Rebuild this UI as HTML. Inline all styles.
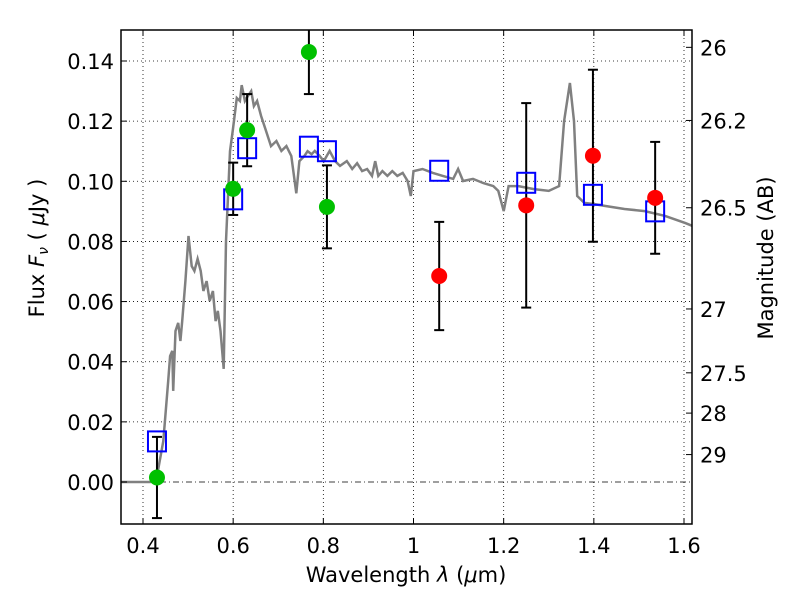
<!DOCTYPE html>
<html><head><meta charset="utf-8"><style>
body{margin:0;background:#fff;}
svg{display:block;font-family:"DejaVu Sans","Liberation Sans",sans-serif;}
</style></head><body>
<svg id="chart" width="800" height="600"></svg>
<script>
const specLambda=[0.35,0.416,0.431,0.445,0.456,0.460,0.465,0.467,0.472,0.478,0.483,0.487,0.494,0.501,0.508,0.514,0.521,0.528,0.534,0.541,0.548,0.555,0.561,0.566,0.572,0.579,0.584,0.588,0.593,0.599,0.608,0.615,0.619,0.626,0.633,0.640,0.646,0.653,0.662,0.673,0.684,0.696,0.707,0.718,0.729,0.740,0.747,0.758,0.765,0.774,0.781,0.792,0.801,0.814,0.826,0.837,0.852,0.864,0.875,0.886,0.897,0.908,0.915,0.922,0.931,0.942,0.953,0.964,0.976,0.987,0.994,1.000,1.020,1.043,1.065,1.088,1.099,1.110,1.132,1.155,1.177,1.188,1.200,1.211,1.233,1.267,1.300,1.323,1.334,1.347,1.356,1.363,1.379,1.401,1.424,1.468,1.513,1.558,1.603,1.630];
const specFlux=[0,0,0.002,0.0136,0.0336,0.0419,0.0436,0.0303,0.0502,0.0529,0.0469,0.0535,0.0668,0.0818,0.0718,0.0702,0.0742,0.0702,0.0635,0.0668,0.0602,0.0635,0.0535,0.0569,0.0502,0.0376,0.0801,0.0934,0.110,0.1167,0.1277,0.1267,0.132,0.1267,0.1284,0.130,0.125,0.1267,0.1217,0.1167,0.1117,0.1134,0.1101,0.1117,0.1084,0.096,0.1067,0.1084,0.110,0.109,0.1101,0.1084,0.1067,0.1101,0.1067,0.1051,0.1067,0.1041,0.106,0.1034,0.1041,0.1018,0.1067,0.1018,0.1034,0.1018,0.1034,0.1018,0.1028,0.1001,0.0951,0.1034,0.1041,0.1028,0.1018,0.1008,0.1041,0.1001,0.1008,0.0994,0.0984,0.0968,0.0901,0.0984,0.0984,0.0974,0.0968,0.0984,0.12,0.1327,0.12,0.0951,0.0928,0.0924,0.0918,0.0908,0.0901,0.0885,0.0861,0.0845];
const obsGreenLambda=[0.431,0.600,0.631,0.768,0.808];
const obsGreenFlux=[0.0015,0.0975,0.117,0.143,0.0915];
const obsGreenErr=[0.0135,0.0087,0.012,0.014,0.0138];
const obsRedLambda=[1.057,1.250,1.398,1.536];
const obsRedFlux=[0.0685,0.092,0.1085,0.0945];
const obsRedErr=[0.018,0.034,0.0286,0.0186];
const modelLambda=[0.431,0.600,0.631,0.768,0.808,1.057,1.250,1.398,1.536];
const modelFlux=[0.0135,0.094,0.111,0.1115,0.110,0.1035,0.0995,0.0955,0.090];
const xTicks=[0.4,0.6,0.8,1.0,1.2,1.4,1.6];
const xTickLabels=["0.4","0.6","0.8","1","1.2","1.4","1.6"];
const yTicks=[0,0.02,0.04,0.06,0.08,0.10,0.12,0.14];
const yTickLabels=["0.00","0.02","0.04","0.06","0.08","0.10","0.12","0.14"];
const magTicks=[26,26.2,26.5,27,27.5,28,29];
const magTickLabels=["26","26.2","26.5","27","27.5","28","29"];

const L=121,R=692,T=30,B=524;
const X=v=>143+(v-0.4)*(684-143)/1.2;
const Y=v=>482-v*(482-61)/0.14;
const NS="http://www.w3.org/2000/svg";
const svg=document.getElementById('chart');
function mk(tag,attrs,parent){const e=document.createElementNS(NS,tag);for(const k in attrs)e.setAttribute(k,attrs[k]);(parent||svg).appendChild(e);return e;}

const defs=mk('defs',{});const cp=mk('clipPath',{id:'clip'},defs);mk('rect',{x:L,y:T,width:R-L,height:B-T},cp);
const grid=mk('g',{});


xTicks.forEach(t=>{mk('line',{x1:X(t),x2:X(t),y1:T,y2:B,stroke:'#000','stroke-width':0.8,'stroke-dasharray':'1,3'},grid);});
yTicks.forEach(t=>{if(t===0)return;mk('line',{x1:L,x2:R,y1:Y(t),y2:Y(t),stroke:'#000','stroke-width':0.8,'stroke-dasharray':'1,3'},grid);});
mk('line',{x1:L,x2:R,y1:Y(0),y2:Y(0),stroke:'#000','stroke-width':0.8,'stroke-dasharray':'6,3,1,3'},grid);

const plot=mk('g',{'clip-path':'url(#clip)'});
const spec=mk('path',{d:specLambda.map((l,i)=>(i?'L':'M')+X(l).toFixed(1)+','+Y(specFlux[i]).toFixed(1)).join(''),fill:'none',stroke:'#808080','stroke-width':2.5},plot);



function errs(ls,fs,es,name){ls.forEach((l,i)=>{const g=mk('g',{},plot);


const x=X(l);mk('line',{x1:x,x2:x,y1:Y(fs[i]+es[i]),y2:Y(fs[i]-es[i]),stroke:'#000','stroke-width':2},g);
[fs[i]+es[i],fs[i]-es[i]].forEach(v=>mk('line',{x1:x-5,x2:x+5,y1:Y(v),y2:Y(v),stroke:'#000','stroke-width':2},g));});}
errs(obsGreenLambda,obsGreenFlux,obsGreenErr,'green');
errs(obsRedLambda,obsRedFlux,obsRedErr,'red');
modelLambda.forEach((l,i)=>{const r=mk('rect',{x:X(l)-9,y:Y(modelFlux[i])-10,width:18,height:20,fill:'none',stroke:'#0000ff','stroke-width':2},plot);

});
obsGreenLambda.forEach((l,i)=>{const c=mk('circle',{cx:X(l),cy:Y(obsGreenFlux[i]),r:8,fill:'#00c000'},plot);

});
obsRedLambda.forEach((l,i)=>{const c=mk('circle',{cx:X(l),cy:Y(obsRedFlux[i]),r:8,fill:'#ff0000'},plot);

});

const frame=mk('rect',{x:L,y:T,width:R-L,height:B-T,fill:'none',stroke:'#000','stroke-width':1.5});



const ax=mk('g',{'font-size':'21'});


xTicks.forEach((t,i)=>{mk('line',{x1:X(t),x2:X(t),y1:B,y2:B-6,stroke:'#000'},ax);mk('line',{x1:X(t),x2:X(t),y1:T,y2:T+6,stroke:'#000'},ax);
const tx=mk('text',{x:X(t),y:553,'text-anchor':'middle'},ax);tx.textContent=xTickLabels[i];

});
yTicks.forEach((t,i)=>{mk('line',{x1:L,x2:L+6,y1:Y(t),y2:Y(t),stroke:'#000'},ax);
const tx=mk('text',{x:114,y:Y(t)+8,'text-anchor':'end'},ax);tx.textContent=yTickLabels[i];

});
magTicks.forEach((m,i)=>{const y=Y(Math.pow(10,(23.9-m)/2.5));mk('line',{x1:R,x2:R-6,y1:y,y2:y,stroke:'#000'},ax);
const tx=mk('text',{x:700,y:y+8},ax);tx.textContent=magTickLabels[i];

});
</script>
<div style="position:absolute;left:0;top:0;width:800px;height:600px;pointer-events:none;">
<svg width="800" height="600" style="font-family:'DejaVu Sans','Liberation Sans',sans-serif;font-size:21px">
<text x="406" y="582" text-anchor="middle">Wavelength  <tspan font-style="italic">λ</tspan> (<tspan font-style="italic">μ</tspan>m)</text>
<text transform="translate(44,248) rotate(-90)" text-anchor="middle">Flux  <tspan font-style="italic">F</tspan><tspan font-style="italic" font-size="14" dy="4">ν</tspan><tspan dy="-4">  (  </tspan><tspan font-style="italic">μ</tspan>Jy )</text>
<text transform="translate(773,258) rotate(-90)" text-anchor="middle">Magnitude (AB)</text>
</svg></div>
</body></html>
